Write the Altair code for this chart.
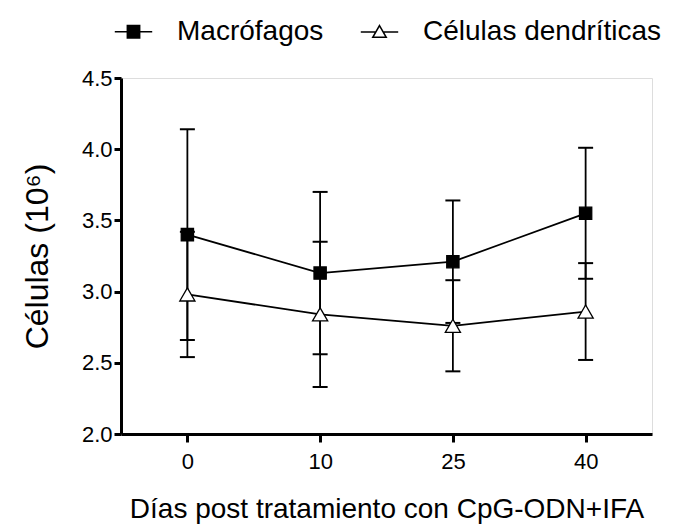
import altair as alt
import pandas as pd

dias = ["0", "10", "25", "40"]
series = ["Macrófagos", "Células dendríticas"]
macro_mean = [3.40, 3.13, 3.21, 3.55]
macro_err = [0.74, 0.57, 0.43, 0.46]
dend_mean = [2.98, 2.84, 2.76, 2.86]
dend_err = [0.44, 0.51, 0.32, 0.34]

rows = []
for s, means, errs in [(series[0], macro_mean, macro_err), (series[1], dend_mean, dend_err)]:
    for d, m, e in zip(dias, means, errs):
        rows.append({"serie": s, "dia": d, "mean": m, "lo": m - e, "hi": m + e})
df = pd.DataFrame(rows)

FONT = "Liberation Sans"

x_enc = alt.X(
    "dia:N",
    sort=dias,
    scale=alt.Scale(type="point", padding=0.5),
    axis=alt.Axis(
        title="Días post tratamiento con CpG-ODN+IFA",
        labelAngle=0,
        labelFontSize=22,
        labelPadding=9,
        tickSize=8,
        tickWidth=3,
        domainWidth=3,
        titleFontSize=28,
        titlePadding=23,
    ),
)
y_scale = alt.Scale(domain=[2.0, 4.5], nice=False, zero=False)
y_axis = alt.Axis(
    title="Células (10⁶)",
    values=[2.0, 2.5, 3.0, 3.5, 4.0, 4.5],
    format=".1f",
    labelFontSize=22,
    labelPadding=2,
    tickSize=7,
    tickWidth=3,
    domainWidth=3,
    titleFontSize=32,
    titlePadding=27,
    grid=False,
)

base = alt.Chart(df)

lines = base.mark_line(color="black", strokeWidth=1.8).encode(
    x=x_enc,
    y=alt.Y("mean:Q", scale=y_scale, axis=y_axis),
    detail="serie:N",
)

bars = base.mark_rule(color="black", strokeWidth=1.8).encode(
    x=alt.X("dia:N", sort=dias),
    y=alt.Y("lo:Q"),
    y2="hi:Q",
)

cap_lo = base.mark_tick(color="black", thickness=2, size=15, opacity=1).encode(
    x=alt.X("dia:N", sort=dias), y=alt.Y("lo:Q")
)
cap_hi = base.mark_tick(color="black", thickness=2, size=15, opacity=1).encode(
    x=alt.X("dia:N", sort=dias), y=alt.Y("hi:Q")
)

points = base.mark_point(stroke="black", strokeWidth=1.3, opacity=1).encode(
    x=alt.X("dia:N", sort=dias),
    y=alt.Y("mean:Q"),
    shape=alt.Shape("serie:N", scale=alt.Scale(domain=series, range=["square", "triangle-up"]), legend=None),
    fill=alt.Fill("serie:N", scale=alt.Scale(domain=series, range=["black", "white"]), legend=None),
    size=alt.Size("serie:N", scale=alt.Scale(domain=series, range=[150, 230]), legend=None),
)

sq_path = "M-1,0H1M-0.33,-0.33H0.33V0.33H-0.33Z"
tri_path = "M-1,0.02H-0.19M0.19,0.02H1M0,-0.33L0.36,0.3H-0.36Z"

def make_legend():
    return alt.Legend(
        title=None,
        orient="none",
        direction="horizontal",
        legendX=-7,
        legendY=-66,
        labelFontSize=28,
        labelFont=FONT,
        labelColor="black",
        labelLimit=500,
        symbolSize=1400,
        symbolOpacity=1,
        symbolStrokeWidth=1.5,
        labelOffset=24,
        columnPadding=33,
    )

legend_layer = base.mark_point(strokeWidth=1.5, opacity=0).encode(
    x=alt.X("dia:N", sort=dias),
    y=alt.Y("mean:Q"),
    shape=alt.Shape(
        "serie:N",
        scale=alt.Scale(domain=series, range=[sq_path, tri_path]),
        legend=make_legend(),
    ),
    fill=alt.Fill(
        "serie:N",
        scale=alt.Scale(domain=series, range=["black", "white"]),
        legend=make_legend(),
    ),
    stroke=alt.Stroke(
        "serie:N",
        scale=alt.Scale(domain=series, range=["black", "black"]),
        legend=make_legend(),
    ),
)

chart = (
    alt.layer(lines, bars, cap_lo, cap_hi, points, legend_layer)
    .resolve_scale(shape="independent", fill="independent", stroke="independent")
    .properties(
        width=531,
        height=356,
        autosize=alt.AutoSizeParams(type="none"),
        padding={"left": 121, "top": 78, "right": 22, "bottom": 91},
    )
    .configure_view(stroke=None)
    .configure(font=FONT)
    .configure_legend(
        symbolStrokeWidth=1.5,
        symbolOpacity=1,
        labelLimit=500,
    )
    .configure_axis(
        domainColor="black",
        tickColor="black",
        labelColor="black",
        titleColor="black",
        titleFontWeight="normal",
        labelFont=FONT,
        titleFont=FONT,
    )
)

chart.save("out.html", embed_options={"renderer": "svg", "actions": False})
